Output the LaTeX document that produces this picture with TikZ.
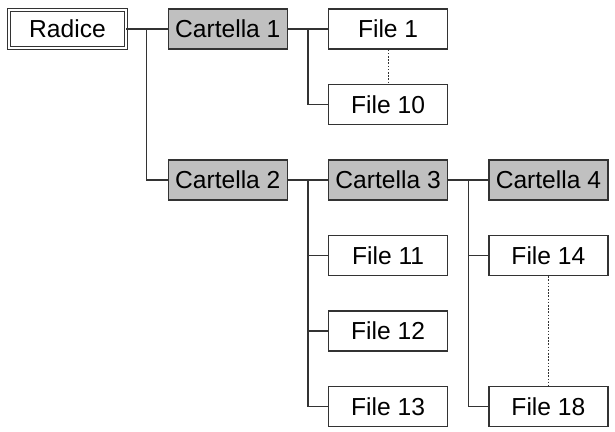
\documentclass[tikz,border=0pt]{standalone}
\usepackage{fontspec}
\setmainfont{Liberation Sans}
\definecolor{cdir}{HTML}{C0C0C0}
\definecolor{cline}{HTML}{333333}
\tikzset{
  every picture/.style={font=\fontsize{12.3}{14}\selectfont},
  item/.style={draw=cline, line width=0.65pt, minimum width=59.5pt,
    minimum height=20pt, inner sep=0pt, fill=white},
  dir/.style={item, fill=cdir},
  root/.style={item, double, double distance=0.9pt, line width=0.45pt,
    minimum width=58.5pt, minimum height=19pt},
  link/.style={cline, line width=0.65pt},
  dots/.style={cline, line width=0.6pt, dash pattern=on 0.8pt off 0.8pt},
}
\def\dx{160.3}
\def\dy{75.5}

\begin{document}
\begin{tikzpicture}[x=0.5pt,y=-0.5pt]
  \path[use as bounding box] (0,0) rectangle (615,432);
  % levels of the tree: one column each, rows dy apart
  \node[root] (rad) at (67.5,29) {Radice};
  \node[dir] (c1) at ({67.5+\dx},29) {Cartella 1};
  \node[dir] (c2) at ({67.5+\dx},{29+2*\dy}) {Cartella 2};
  \node[dir] (c3) at ({67.5+2*\dx},{29+2*\dy}) {Cartella 3};
  \node[dir] (c4) at ({67.5+3*\dx},{29+2*\dy}) {Cartella 4};
  \node[item] (f1) at ({67.5+2*\dx},29) {File 1};
  \node[item] (f10) at ({67.5+2*\dx},{29+\dy}) {File 10};
  \foreach \k/\r in {11/3,12/4,13/5}
    \node[item] (f\k) at ({67.5+2*\dx},{29+\r*\dy}) {File \k};
  \node[item] (f14) at ({67.5+3*\dx},{29+3*\dy}) {File 14};
  \node[item] (f18) at ({67.5+3*\dx},{29+5*\dy}) {File 18};

  % connectors
  \draw[link] (rad) -- (c1);
  \path (rad.east) ++(20,0) coordinate (t0);
  \draw[link] (t0) |- (c2.west);

  \draw[link] (c1) -- (f1);
  \path (c1.east) ++(20,0) coordinate (t1);
  \draw[link] (t1) |- (f10.west);
  \draw[dots] (f1) -- (f10);

  \draw[link] (c2) -- (c3);
  \path (c2.east) ++(20,0) coordinate (t2);
  \foreach \k in {11,12,13}
    \draw[link] (t2) |- (f\k.west);

  \draw[link] (c3) -- (c4);
  \path (c3.east) ++(20,0) coordinate (t3);
  \draw[link] (t3) |- (f14.west);
  \draw[link] (t3) |- (f18.west);
  \draw[dots] (f14) -- (f18);
\end{tikzpicture}
\end{document}
